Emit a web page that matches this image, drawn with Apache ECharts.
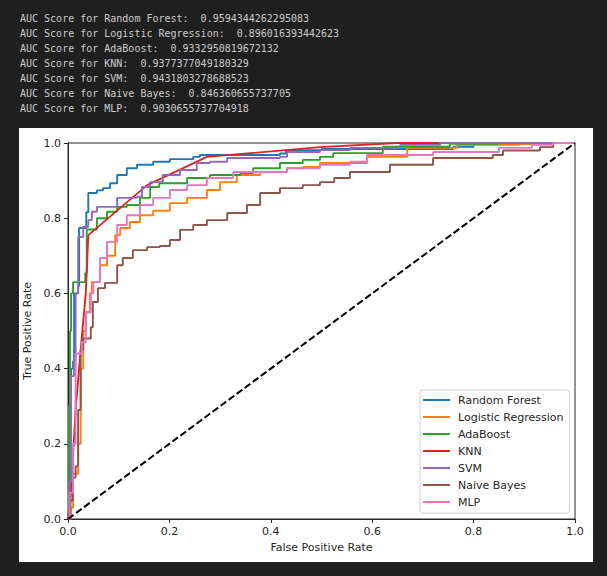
<!DOCTYPE html>
<html>
<head>
<meta charset="utf-8">
<script src="https://cdn.jsdelivr.net/npm/echarts@6/dist/echarts.min.js"></script>
<style>
  html, body { margin: 0; padding: 0; background: #1f1f1f; width: 607px; height: 576px; overflow: hidden; }
  #log {
    position: absolute; left: 20px; top: 11px;
    font-family: "DejaVu Sans Mono", monospace; font-size: 10px; line-height: 15px;
    color: #cccccc; white-space: pre;
  }
  #chart { position: absolute; left: 19px; top: 128px; width: 574px; height: 434px; background: #ffffff; }
</style>
</head>
<body>
<div id="log"></div>
<div id="chart"></div>
<script>
// model names and printed AUC scores
const models = ['Random Forest', 'Logistic Regression', 'AdaBoost', 'KNN', 'SVM', 'Naive Bayes', 'MLP'];
const aucScores = ['0.9594344262295083', '0.896016393442623', '0.9332950819672132', '0.9377377049180329',
  '0.9431803278688523', '0.846360655737705', '0.9030655737704918'];

// ROC points [fpr, tpr]
const rocRandomForest = [[0, 0], [0.002, 0.05], [0.004, 0.2], [0.006, 0.4], [0.01, 0.42], [0.012, 0.6], [0.02, 0.62],
  [0.022, 0.774], [0.034, 0.774], [0.036, 0.816], [0.04, 0.867], [0.057, 0.874], [0.069, 0.88], [0.083, 0.893],
  [0.097, 0.915], [0.116, 0.933], [0.136, 0.942], [0.168, 0.95], [0.201, 0.957], [0.247, 0.963], [0.26, 0.968],
  [0.418, 0.972], [0.43, 0.981], [0.5, 0.984], [0.76, 0.99], [0.8, 1], [1, 1]];
const rocLogReg = [[0, 0], [0.005, 0.03], [0.01, 0.12], [0.02, 0.2], [0.025, 0.4], [0.03, 0.5], [0.035, 0.55],
  [0.043, 0.6], [0.047, 0.63], [0.063, 0.675], [0.077, 0.7], [0.093, 0.755], [0.103, 0.774], [0.122, 0.79],
  [0.142, 0.808], [0.168, 0.82], [0.201, 0.84], [0.235, 0.854], [0.274, 0.875], [0.3, 0.896], [0.333, 0.915],
  [0.379, 0.923], [0.432, 0.933], [0.463, 0.936], [0.497, 0.947], [0.59, 0.963], [0.669, 0.987], [0.767, 0.995],
  [0.89, 0.997], [0.94, 1], [1, 1]];
const rocAdaBoost = [[0, 0], [0.002, 0.3], [0.004, 0.5], [0.006, 0.6], [0.01, 0.63], [0.018, 0.63], [0.034, 0.654],
  [0.037, 0.77], [0.057, 0.8], [0.077, 0.817], [0.097, 0.83], [0.116, 0.835], [0.142, 0.854], [0.162, 0.883],
  [0.18, 0.893], [0.227, 0.893], [0.235, 0.907], [0.28, 0.915], [0.34, 0.92], [0.365, 0.933],
  [0.418, 0.947], [0.463, 0.955], [0.497, 0.963], [0.523, 0.973], [0.621, 0.99], [0.753, 0.998], [0.85, 1], [1, 1]];
const rocKnn = [[0, 0], [0.005, 0.05], [0.015, 0.29], [0.025, 0.45], [0.035, 0.6], [0.04, 0.755],
  [0.156, 0.888], [0.274, 0.963], [0.497, 0.989], [0.65, 1], [1, 1]];
const rocSvm = [[0, 0], [0.003, 0.1], [0.006, 0.38], [0.012, 0.42], [0.015, 0.6], [0.02, 0.75], [0.028, 0.75],
  [0.03, 0.777], [0.04, 0.795], [0.047, 0.817], [0.057, 0.83], [0.077, 0.83], [0.097, 0.854], [0.136, 0.857],
  [0.146, 0.883], [0.162, 0.896], [0.187, 0.915], [0.221, 0.928], [0.254, 0.947], [0.28, 0.95], [0.314, 0.96],
  [0.418, 0.963], [0.432, 0.976], [0.497, 0.981], [0.556, 0.987], [0.655, 0.995], [0.734, 1], [1, 1]];
const rocNaiveBayes = [[0, 0], [0.005, 0.05], [0.01, 0.11], [0.015, 0.14], [0.02, 0.29], [0.025, 0.45],
  [0.03, 0.48], [0.045, 0.51], [0.049, 0.577], [0.059, 0.614], [0.073, 0.628], [0.097, 0.675], [0.108, 0.694],
  [0.128, 0.715], [0.156, 0.723], [0.181, 0.726], [0.201, 0.742], [0.221, 0.769], [0.247, 0.782], [0.274, 0.795],
  [0.314, 0.814], [0.353, 0.835], [0.379, 0.867], [0.418, 0.88], [0.463, 0.888], [0.497, 0.896], [0.525, 0.907],
  [0.556, 0.923], [0.635, 0.942], [0.72, 0.96], [0.838, 0.968], [0.858, 0.98], [0.931, 0.989], [0.957, 1], [1, 1]];
const rocMlp = [[0, 0], [0.003, 0.07], [0.01, 0.2], [0.015, 0.44], [0.027, 0.47], [0.035, 0.55], [0.045, 0.6],
  [0.05, 0.63], [0.063, 0.694], [0.077, 0.737], [0.097, 0.782], [0.116, 0.808], [0.142, 0.835], [0.168, 0.854],
  [0.201, 0.875], [0.235, 0.888], [0.274, 0.907], [0.326, 0.923], [0.432, 0.933], [0.497, 0.942], [0.556, 0.95],
  [0.59, 0.968], [0.72, 0.976], [0.85, 0.987], [0.915, 0.995], [0.957, 1], [1, 1]];
const chanceLine = [[0, 0], [1, 1]];

const rocCurves = [rocRandomForest, rocLogReg, rocAdaBoost, rocKnn, rocSvm, rocNaiveBayes, rocMlp];
const colors = ['#1f77b4', '#ff7f0e', '#2ca02c', '#d62728', '#9467bd', '#8c564b', '#e377c2'];

document.getElementById('log').textContent = models
  .map((m, i) => 'AUC Score for ' + m + ':  ' + aucScores[i])
  .join('\n');

const chart = echarts.init(document.getElementById('chart'), null, { renderer: 'svg' });

const axisText = { fontFamily: 'DejaVu Sans', fontSize: 11, color: '#262626' };

const series = models.map((name, i) => ({
  name: name,
  type: 'line',
  data: rocCurves[i],
  step: name === 'KNN' ? false : 'end',
  showSymbol: false,
  symbol: 'none',
  color: colors[i],
  lineStyle: { width: 1.9, color: colors[i] },
  z: 2 + i
}));
series.push({
  type: 'line',
  data: chanceLine,
  showSymbol: false,
  symbol: 'none',
  lineStyle: { width: 2, color: '#000', type: [7, 3] },
  z: 10
});

const option = {
  animation: false,
  backgroundColor: '#ffffff',
  grid: {
    left: 49, top: 15, width: 507, height: 376,
    outerBoundsMode: 'none', containLabel: false,
    show: true, borderColor: '#262626', borderWidth: 1, backgroundColor: '#fff'
  },
  legend: {
    data: models,
    orient: 'vertical',
    left: 401, top: 262,
    icon: 'rect',
    itemWidth: 27, itemHeight: 2, itemGap: 3,
    padding: [3, 6, 4, 3],
    backgroundColor: 'rgba(255,255,255,0.85)',
    borderColor: '#d0d0d0', borderWidth: 1, borderRadius: 3,
    textStyle: { fontFamily: 'DejaVu Sans', fontSize: 11, color: '#262626', lineHeight: 14, padding: [0, 0, 0, 3] },
    z: 20
  },
  xAxis: {
    type: 'value', min: 0, max: 1, interval: 0.2,
    name: 'False Positive Rate', nameLocation: 'middle', nameGap: 23,
    nameTextStyle: axisText,
    axisLine: { show: true, lineStyle: { color: '#262626', width: 1 } },
    axisTick: { show: true, length: 4, lineStyle: { color: '#262626' } },
    axisLabel: Object.assign({ margin: 7, formatter: v => v.toFixed(1) }, axisText),
    splitLine: { show: false }
  },
  yAxis: {
    type: 'value', min: 0, max: 1, interval: 0.2,
    name: 'True Positive Rate', nameLocation: 'middle', nameGap: 27,
    nameTextStyle: axisText,
    axisLine: { show: true, lineStyle: { color: '#262626', width: 1 } },
    axisTick: { show: true, length: 4, lineStyle: { color: '#262626' } },
    axisLabel: Object.assign({ margin: 7, formatter: v => v.toFixed(1) }, axisText),
    splitLine: { show: false }
  },
  series: series
};

chart.setOption(option);
</script>
</body>
</html>
